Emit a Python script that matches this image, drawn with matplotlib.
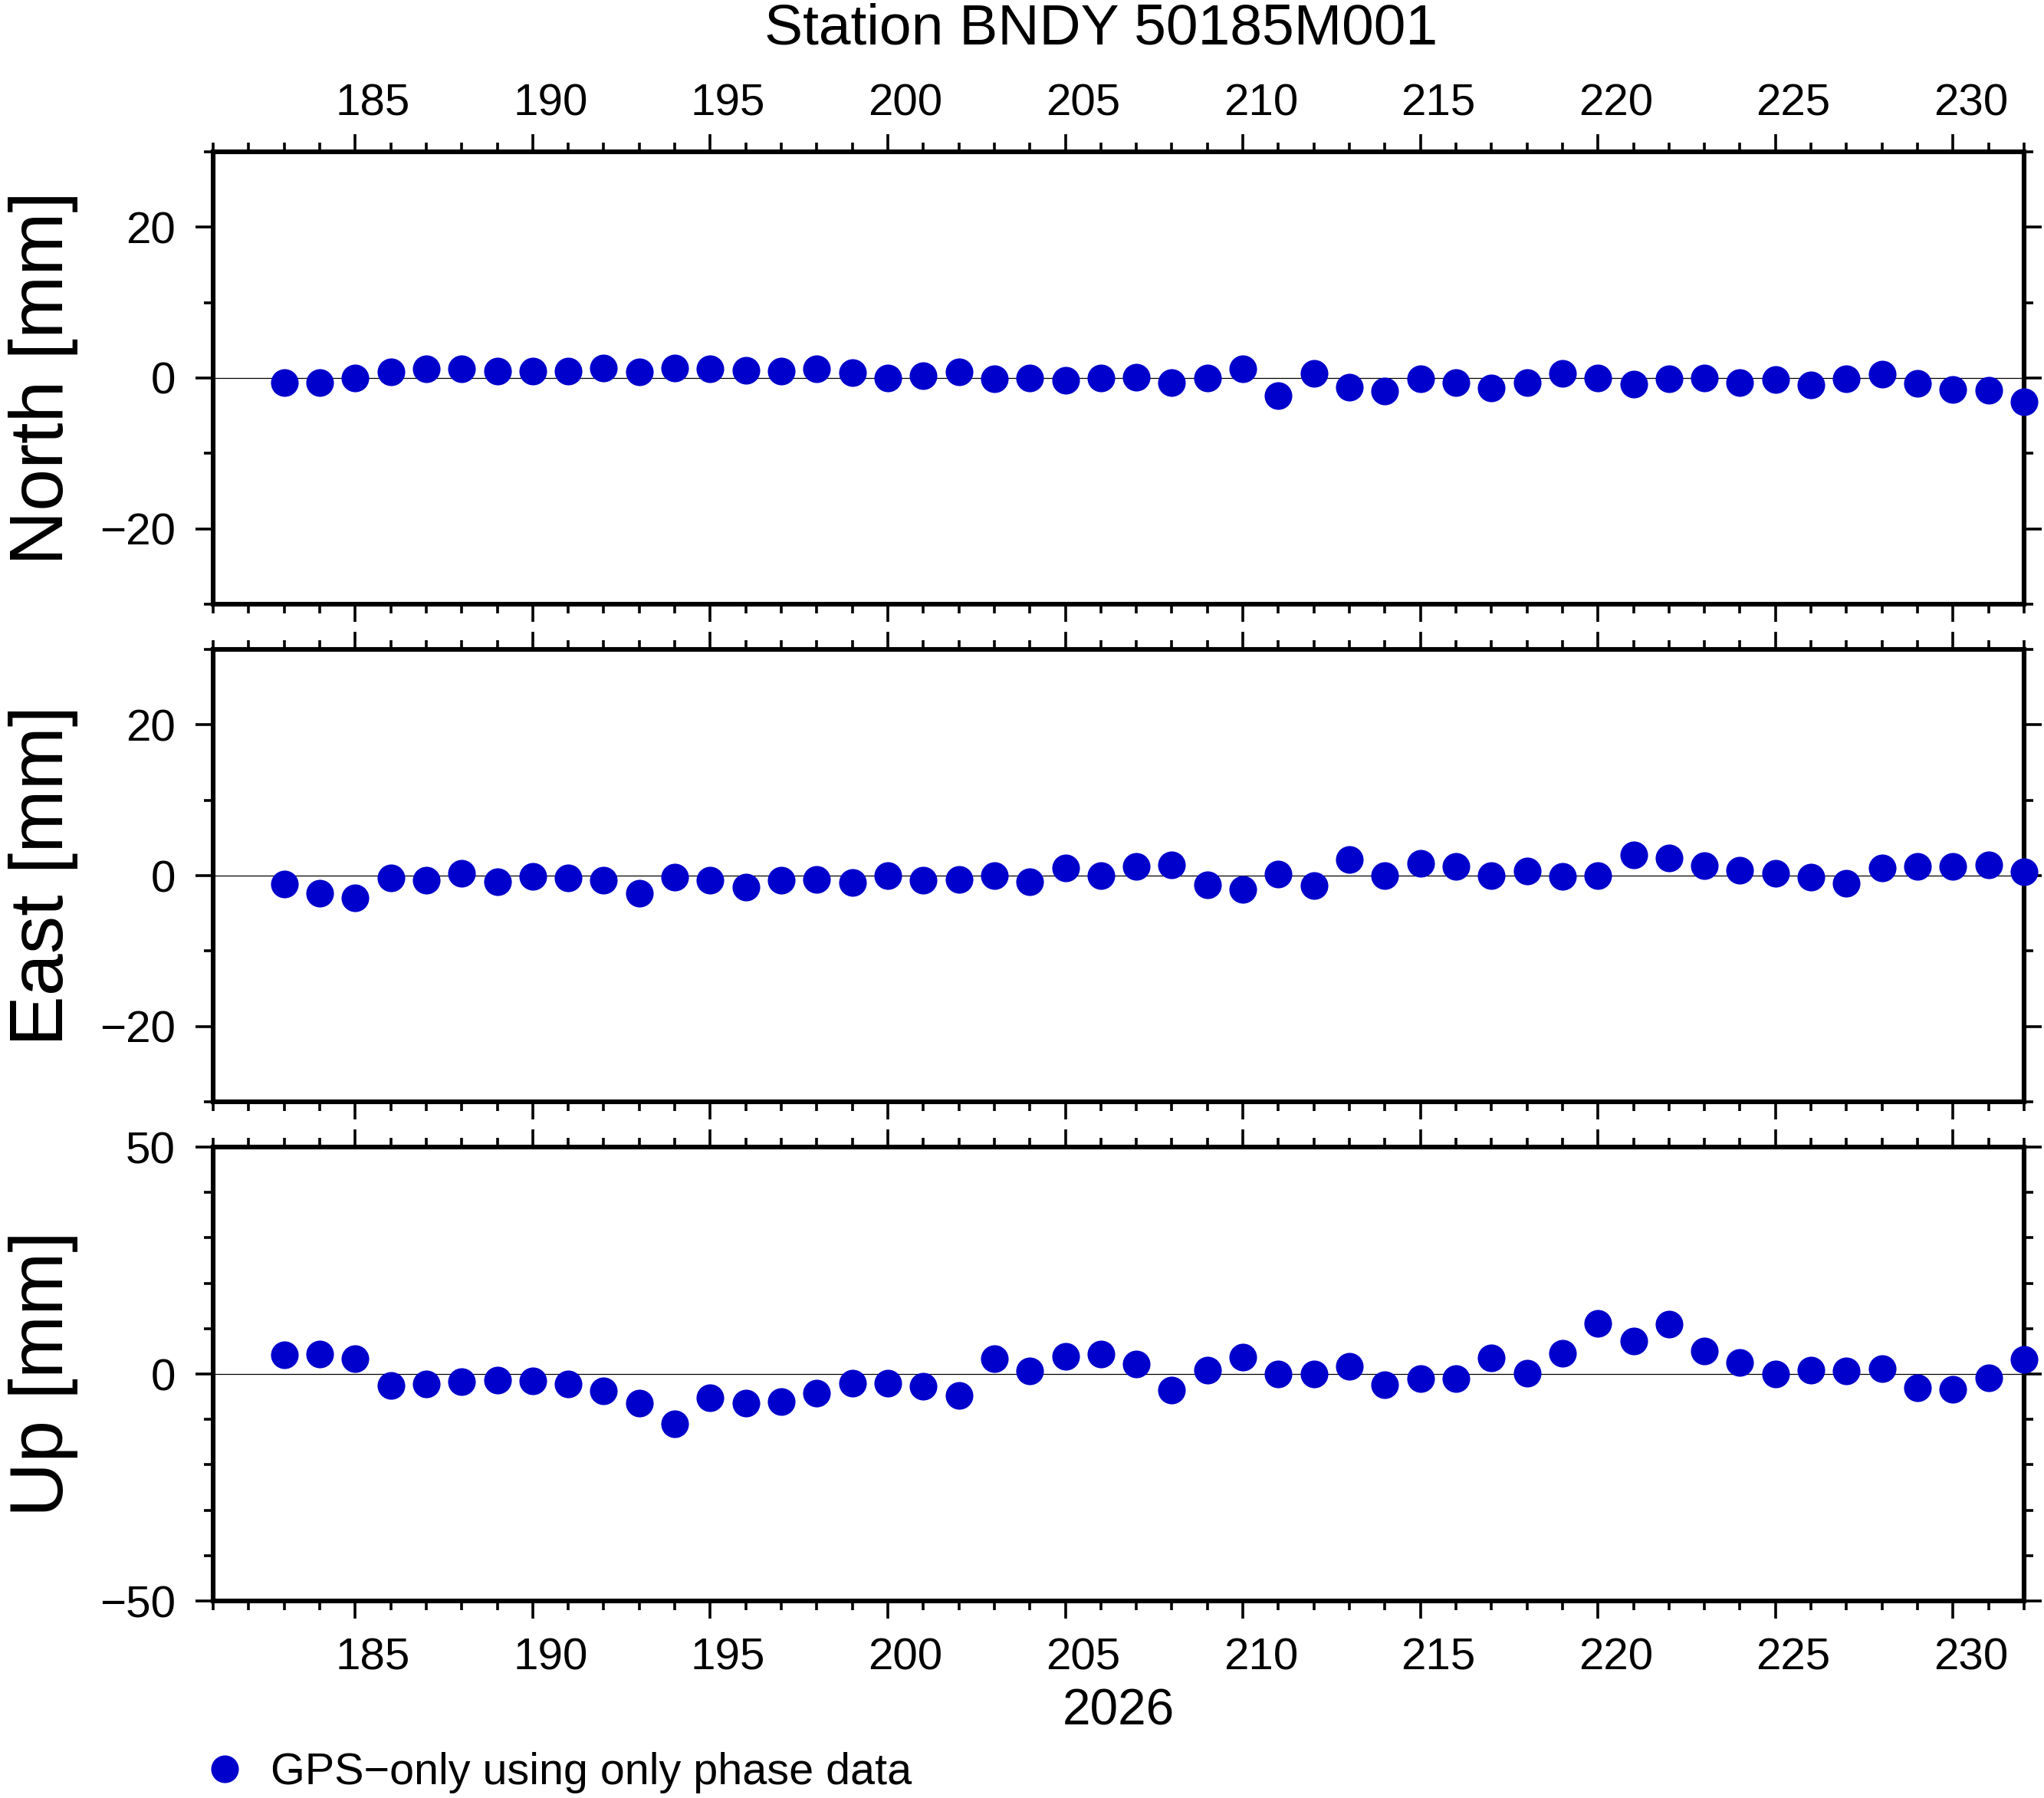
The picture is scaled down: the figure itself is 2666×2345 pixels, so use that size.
import matplotlib
matplotlib.use("Agg")
import matplotlib.pyplot as plt
from matplotlib.ticker import MultipleLocator

plt.rcParams['font.family'] = ['Liberation Sans', 'DejaVu Sans']

# data: daily GPS solutions, day of year 2026
title = "Station BNDY 50185M001"
year_label = "2026"
legend_label = "GPS\u2212only using only phase data"
days = list(range(183, 233))
north = [-0.56, -0.66, -0.05, 0.78, 1.27, 1.17, 0.96, 0.96, 0.96, 1.37,
         0.86, 1.37, 1.25, 1.06, 0.96, 1.27, 0.76, 0.05, 0.35, 0.86,
         -0.15, 0.05, -0.35, -0.05, 0.15, -0.66, -0.05, 1.27, -2.38, 0.66,
         -1.27, -1.77, -0.15, -0.56, -1.37, -0.66, 0.66, 0.05, -0.86, -0.15,
         -0.05, -0.56, -0.25, -0.96, -0.15, 0.46, -0.76, -1.57, -1.67, -3.13]
east = [-1.13, -2.38, -2.96, -0.35, -0.56, 0.35, -0.86, -0.15, -0.35, -0.56,
        -2.38, -0.25, -0.66, -1.57, -0.66, -0.46, -0.96, -0.05, -0.66, -0.46,
        0.05, -0.86, 1.06, 0.05, 1.17, 1.47, -1.27, -1.88, 0.25, -1.37,
        2.18, -0.05, 1.67, 1.17, -0.05, 0.66, -0.15, 0.05, 2.79, 2.38,
        1.37, 0.76, 0.35, -0.25, -1.06, 1.06, 1.17, 1.17, 1.47, 0.46]
up = [4.27, 4.44, 3.42, -2.51, -2.18, -1.67, -1.33, -1.50, -2.18, -3.70,
      -6.41, -10.99, -5.23, -6.41, -6.07, -4.21, -2.01, -2.01, -2.68, -4.72,
      3.42, 0.71, 3.93, 4.44, 2.23, -3.53, 0.88, 3.76, 0.03, 0.03,
      1.72, -2.34, -0.99, -0.99, 3.59, 0.20, 4.60, 11.21, 7.32, 11.05,
      5.11, 2.57, 0.03, 0.88, 0.71, 1.21, -3.02, -3.36, -0.82, 3.25]

panel_names = ["North [mm]", "East [mm]", "Up [mm]"]
panel_data = [north, east, up]
panel_lim = [30, 30, 50]
panel_major = [20, 20, 50]
label_days = list(range(185, 231, 5))

W, H = 2666, 2345
fig = plt.figure(figsize=(W / 200, H / 200), dpi=200)

# panel boxes in pixels (top, bottom)
left_px, right_px = 278, 2640
boxes = [(198, 788), (847, 1437), (1496, 2088)]
blue = '#0000CD'

axes = []
for i, (top_px, bot_px) in enumerate(boxes):
    ax = fig.add_axes([left_px / W, 1 - bot_px / H,
                       (right_px - left_px) / W, (bot_px - top_px) / H])
    lim = panel_lim[i]
    ax.axhline(0, color='black', lw=0.45, zorder=1)
    line, = ax.plot(days, panel_data[i], 'o', color=blue, ms=13, mec='none',
                    clip_on=False, zorder=5, label=legend_label)

    ax.xaxis.set_major_locator(MultipleLocator(5))
    ax.xaxis.set_minor_locator(MultipleLocator(1))
    ax.yaxis.set_major_locator(MultipleLocator(panel_major[i]))
    ax.yaxis.set_minor_locator(MultipleLocator(10))
    ax.set_xlim(181, 232)
    ax.set_ylim(-lim, lim)
    ax.set_xticklabels([])
    ax.tick_params(which='both', direction='out', top=True, right=True,
                   width=1.3, labelsize=21, pad=9.4)
    ax.tick_params(which='major', length=8.3)
    ax.tick_params(which='minor', length=4.2)
    for s in ax.spines.values():
        s.set_linewidth(2.2)

    fig.text(57 / W, 1 - (top_px + bot_px) / 2 / H, panel_names[i],
             rotation=90, ha='center', va='center', fontsize=35.5)
    axes.append(ax)

# day labels sit in the middle of each day interval
for d in label_days:
    axes[0].annotate(str(d), xy=(d + 0.5, 1), xycoords=('data', 'axes fraction'),
                     xytext=(0, 17.1), textcoords='offset points',
                     ha='center', va='baseline', fontsize=21)
    axes[2].annotate(str(d), xy=(d + 0.5, 0), xycoords=('data', 'axes fraction'),
                     xytext=(0, -32.4), textcoords='offset points',
                     ha='center', va='baseline', fontsize=21)

axes[2].annotate(year_label, xy=(0.5, 0), xycoords='axes fraction',
                 xytext=(0, -58.3), textcoords='offset points',
                 ha='center', va='baseline', fontsize=23.7)

fig.text(1436 / W, 1 - 57 / H, title, ha='center', va='baseline', fontsize=27)

fig.legend(handles=[line], loc='center left', bbox_to_anchor=(276 / W, 1 - 2312 / H),
           frameon=False, fontsize=20.7, handlelength=0.6, handletextpad=0.74,
           borderpad=0, borderaxespad=0, numpoints=1)

fig.savefig("out.png", dpi=200)
